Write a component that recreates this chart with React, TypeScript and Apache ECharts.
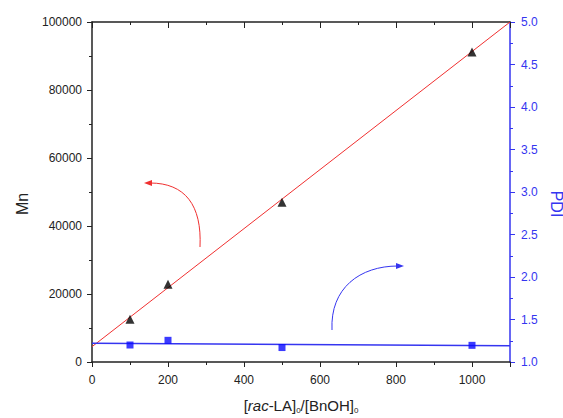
import React, { useEffect, useRef } from "react";
import * as echarts from "echarts";

const ratios = [100, 200, 500, 1000];
const mnValues = [12600, 22900, 47000, 91200];
const pdiValues = [1.2, 1.255, 1.17, 1.196];
const mnFitX = [0, 1100];
const mnFitY = [4500, 100000];
const pdiFitX = [0, 1100];
const pdiFitY = [1.22, 1.19];

const BLUE = "#3535f0";
const FONT = "Liberation Sans, Arial, sans-serif";

export default function App() {
  const ref = useRef<HTMLDivElement>(null);
  useEffect(() => {
    if (!ref.current) return;
    const chart = echarts.init(ref.current, undefined, { renderer: "svg" });
    const xCommon = {
      type: "value" as const,
      min: 0,
      max: 1100,
      interval: 200,
    };
    chart.setOption({
      animation: false,
      backgroundColor: "#fff",
      textStyle: { fontFamily: FONT },
      grid: { left: 92, top: 22, width: 418, height: 340, containLabel: false, outerBoundsMode: "none" },
      xAxis: [
        {
          ...xCommon,
          position: "bottom",
          axisLine: { onZero: false, lineStyle: { color: "#222", width: 1.5 } },
          axisTick: { inside: false, length: 5, lineStyle: { color: "#222" } },
          minorTick: { show: true, splitNumber: 2, length: 3, lineStyle: { color: "#222" } },
          splitLine: { show: false },
          axisLabel: {
            color: "#222",
            fontSize: 12,
            fontFamily: FONT,
            margin: 12,
            formatter: (v: number) => (v > 1000 ? "" : String(v)),
          },
          name: "{b|[}{i|rac}{b|-LA]}{s|0}{b|/[BnOH]}{s|0}",
          nameLocation: "middle",
          nameGap: 34,
          nameTextStyle: {
            rich: {
              b: { fontSize: 15, color: "#222", fontFamily: FONT, lineHeight: 18 },
              i: { fontSize: 15, color: "#222", fontFamily: FONT, fontStyle: "italic", lineHeight: 18 },
              s: { fontSize: 8, color: "#222", fontFamily: FONT, lineHeight: 18, padding: [10, 0, 0, 0] },
            },
          },
        },
        {
          ...xCommon,
          position: "top",
          axisLine: { onZero: false, lineStyle: { color: "#222", width: 1.5 } },
          axisTick: { inside: true, length: 6, lineStyle: { color: "#222" } },
          minorTick: { show: true, splitNumber: 2, length: 3, lineStyle: { color: "#222" } },
          splitLine: { show: false },
          axisLabel: { show: false },
        },
      ],
      yAxis: [
        {
          type: "value",
          min: 0,
          max: 100000,
          interval: 20000,
          position: "left",
          axisLine: { show: true, onZero: false, lineStyle: { color: "#222", width: 1.5 } },
          axisTick: { show: true, length: 5, lineStyle: { color: "#222" } },
          minorTick: { show: true, splitNumber: 2, length: 3, lineStyle: { color: "#222" } },
          splitLine: { show: false },
          axisLabel: { color: "#222", fontSize: 12, fontFamily: FONT, margin: 10, formatter: (v: number) => String(v) },
          name: "Mn",
          nameLocation: "middle",
          nameRotate: 90,
          nameGap: 62,
          nameTextStyle: { fontSize: 16, color: "#222", fontFamily: FONT, padding: [0, 24, 0, 0] },
        },
        {
          type: "value",
          min: 1,
          max: 5,
          interval: 0.5,
          position: "right",
          axisLine: { show: true, onZero: false, lineStyle: { color: BLUE, width: 1.5 } },
          axisTick: { show: true, length: 5, lineStyle: { color: BLUE } },
          minorTick: { show: true, splitNumber: 2, length: 3, lineStyle: { color: BLUE } },
          splitLine: { show: false },
          axisLabel: { color: BLUE, fontSize: 12, fontFamily: FONT, margin: 11, formatter: (v: number) => v.toFixed(1) },
          name: "PDI",
          nameLocation: "middle",
          nameRotate: -90,
          nameGap: 29,
          nameTextStyle: { fontSize: 16, lineHeight: 16, color: BLUE, fontFamily: FONT, padding: [0, 0, 0, 24] },
        },
      ],
      series: [
        {
          type: "line",
          data: mnFitX.map((x, i) => [x, mnFitY[i]]),
          showSymbol: false,
          lineStyle: { color: "#f03030", width: 1 },
          z: 2,
        },
        {
          type: "line",
          yAxisIndex: 1,
          data: pdiFitX.map((x, i) => [x, pdiFitY[i]]),
          showSymbol: false,
          lineStyle: { color: BLUE, width: 1.5 },
          z: 2,
        },
        {
          type: "scatter",
          data: ratios.map((x, i) => [x, mnValues[i]]),
          symbol: "triangle",
          symbolSize: 9,
          itemStyle: { color: "#000" },
          z: 3,
        },
        {
          type: "scatter",
          yAxisIndex: 1,
          data: ratios.map((x, i) => [x, pdiValues[i]]),
          symbol: "rect",
          symbolSize: 7,
          itemStyle: { color: "#0a0aff" },
          z: 3,
        },
      ],
      graphic: [
        {
          type: "bezierCurve",
          shape: { x1: 200, y1: 247, cpx1: 202, cpy1: 205, cpx2: 185, cpy2: 183, x2: 150, y2: 183 },
          style: { stroke: "#f03030", lineWidth: 1, fill: "none" },
        },
        {
          type: "polygon",
          shape: { points: [[144, 183], [152, 180], [152, 186]] },
          style: { fill: "#f03030" },
        },
        {
          type: "bezierCurve",
          shape: { x1: 332, y1: 330, cpx1: 330, cpy1: 288, cpx2: 360, cpy2: 266, x2: 398, y2: 266 },
          style: { stroke: BLUE, lineWidth: 1, fill: "none" },
        },
        {
          type: "polygon",
          shape: { points: [[404, 266], [396, 263], [396, 269]] },
          style: { fill: BLUE },
        },
      ],
    });
    return () => chart.dispose();
  }, []);
  return <div ref={ref} style={{ width: 563, height: 418, position: "absolute", left: 0, top: 0 }} />;
}
